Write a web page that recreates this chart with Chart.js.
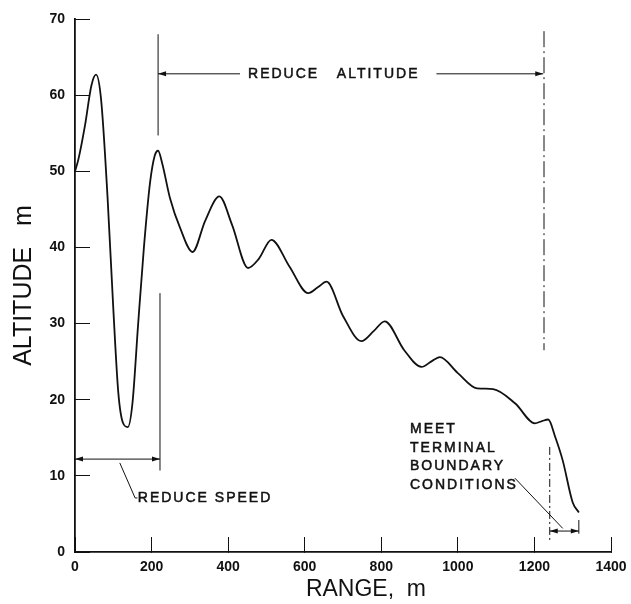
<!DOCTYPE html>
<html>
<head>
<meta charset="utf-8">
<script src="https://cdn.jsdelivr.net/npm/chart.js@4.4.1/dist/chart.umd.min.js"></script>
<style>
  body { margin: 0; background: #fff; }
  canvas { display: block; }
</style>
</head>
<body>
<canvas id="mainChart" width="631" height="604"></canvas>
<script>
const main = document.getElementById("mainChart");

let rangeM = [0, 9, 26, 43, 55, 68, 85, 100, 113, 125, 138, 150, 165, 180, 196, 208, 217, 228, 248, 275,
    307, 340, 377, 410, 452, 480, 513, 560, 609, 635, 657, 700, 748, 780, 809, 860, 905, 930, 953,
    1000, 1050, 1092, 1150, 1201, 1220, 1236, 1255, 1274, 1300, 1316];
let altitudeM = [50, 51.6, 56, 61.3, 62.7, 59.5, 46.6, 32, 21, 17, 16.4, 19.5, 30, 40, 48.5, 52, 52.7, 51, 46.5, 42.5,
    39.4, 43.5, 46.7, 43, 37.3, 38.5, 41, 37.5, 34, 34.8, 35.5, 31, 27.7, 29, 30.3, 26.5, 24.3, 25, 25.6,
    23.5, 21.5, 21.4, 19.5, 16.9, 17.2, 17.4, 15, 12, 6.5, 5.2];

let xTicks = [0, 200, 400, 600, 800, 1000, 1200, 1400];
let yTicks = [0, 10, 20, 30, 40, 50, 60, 70];

const ink = "#111";

function arrowHead(ctx, x, y, dir) {
    ctx.beginPath();
    ctx.moveTo(x, y);
    ctx.lineTo(x - dir * 8, y - 2.5);
    ctx.lineTo(x - dir * 8, y + 2.5);
    ctx.closePath();
    ctx.fill();
}

function seg(ctx, x1, y1, x2, y2) {
    ctx.beginPath();
    ctx.moveTo(x1, y1);
    ctx.lineTo(x2, y2);
    ctx.stroke();
}

// lettering a touch heavier than the regular face, like the stencil text
function label(ctx, text, x, y) {
    ctx.fillText(text, x, y);
    ctx.lineWidth = 0.5;
    ctx.strokeText(text, x, y);
    ctx.lineWidth = 1;
}

const notes = {
    id: "notes",
    afterDatasetsDraw(chart) {
        const ctx = chart.ctx;
        const X = v => chart.scales.x.getPixelForValue(v);
        const Y = v => chart.scales.y.getPixelForValue(v);
        ctx.save();
        ctx.strokeStyle = ink;
        ctx.fillStyle = ink;
        ctx.lineWidth = 1;
        ctx.font = "14px 'Liberation Sans', Arial, sans-serif";
        ctx.letterSpacing = "2px";
        ctx.textBaseline = "middle";
        ctx.textAlign = "left";

        // reduce altitude
        seg(ctx, X(217), Y(68), X(217), Y(54.7));
        seg(ctx, X(217), Y(62.8), X(431), Y(62.8));
        arrowHead(ctx, X(217), Y(62.8), -1);
        label(ctx, "REDUCE   ALTITUDE", X(452), Y(62.8));
        seg(ctx, X(944), Y(62.8), X(1223), Y(62.8));
        arrowHead(ctx, X(1223), Y(62.8), 1);
        ctx.setLineDash([16, 4, 2, 4]);
        seg(ctx, X(1225), Y(68.4), X(1225), Y(26.5));
        ctx.setLineDash([]);

        // reduce speed
        seg(ctx, X(222), Y(34), X(222), Y(10.7));
        seg(ctx, X(0), Y(12.2), X(222), Y(12.2));
        arrowHead(ctx, X(0), Y(12.2), -1);
        arrowHead(ctx, X(222), Y(12.2), 1);
        ctx.beginPath();
        ctx.moveTo(X(117), Y(11.7));
        ctx.lineTo(X(157), Y(7.1));
        ctx.lineTo(X(163), Y(7.1));
        ctx.stroke();
        label(ctx, "REDUCE SPEED", X(164), Y(7.1));

        // terminal conditions
        ["MEET", "TERMINAL", "BOUNDARY", "CONDITIONS"].forEach((t, i) => {
            label(ctx, t, X(875), Y(16.1) + i * 18.5);
        });
        seg(ctx, X(1149), Y(9.7), X(1274), Y(3.1));
        ctx.setLineDash([8, 3, 2, 3]);
        seg(ctx, X(1240), Y(13.8), X(1240), Y(1.3));
        ctx.setLineDash([]);
        seg(ctx, X(1316), Y(4.2), X(1316), Y(2.4));
        seg(ctx, X(1240), Y(2.75), X(1316), Y(2.75));
        arrowHead(ctx, X(1240), Y(2.75), -1);
        arrowHead(ctx, X(1316), Y(2.75), 1);

        // x axis title
        ctx.letterSpacing = "0px";
        ctx.textAlign = "center";
        ctx.font = "23px 'Liberation Sans', Arial, sans-serif";
        ctx.fillText("RANGE,  m", X(760), chart.chartArea.bottom + 38);
        ctx.restore();
    }
};

new Chart(main, {
    type: "line",
    data: {
        datasets: [{
            data: rangeM.map((r, i) => ({x: r, y: altitudeM[i]})),
            borderColor: ink,
            borderWidth: 1.8,
            pointRadius: 0,
            cubicInterpolationMode: "monotone",
            fill: false
        }]
    },
    options: {
        responsive: false,
        animation: false,
        layout: {padding: {top: 19, right: 20, left: 0, bottom: 0}},
        plugins: {legend: {display: false}, tooltip: {enabled: false}},
        scales: {
            x: {
                type: "linear",
                min: 0,
                max: 1400,
                afterFit: s => { s.height = 52; s.paddingLeft = 0; s.paddingRight = 0; },
                afterBuildTicks: s => { s.ticks = xTicks.map(v => ({value: v})); },
                border: {display: true, color: ink, width: 1.8},
                grid: {drawOnChartArea: false, drawTicks: true, tickLength: -15, color: ink, lineWidth: 1},
                ticks: {padding: 22, color: ink, callback: v => String(v),
                    font: {family: "'Liberation Sans', Arial", size: 14, weight: "bold"}}
            },
            y: {
                min: 0,
                max: 70,
                afterFit: s => { s.width = 75; s.paddingTop = 0; s.paddingBottom = 0; },
                afterBuildTicks: s => { s.ticks = yTicks.map(v => ({value: v})); },
                border: {display: true, color: ink, width: 1.8},
                grid: {drawOnChartArea: false, drawTicks: true, tickLength: -15, color: ink, lineWidth: 1},
                ticks: {padding: 25, color: ink, callback: v => String(v),
                    font: {family: "'Liberation Sans', Arial", size: 14, weight: "bold"}},
                title: {
                    display: true,
                    text: "ALTITUDE   m",
                    color: ink,
                    padding: {top: 9, bottom: 0},
                    font: {family: "'Liberation Sans', Arial", size: 25}
                }
            }
        }
    },
    plugins: [notes]
});
</script>
</body>
</html>
